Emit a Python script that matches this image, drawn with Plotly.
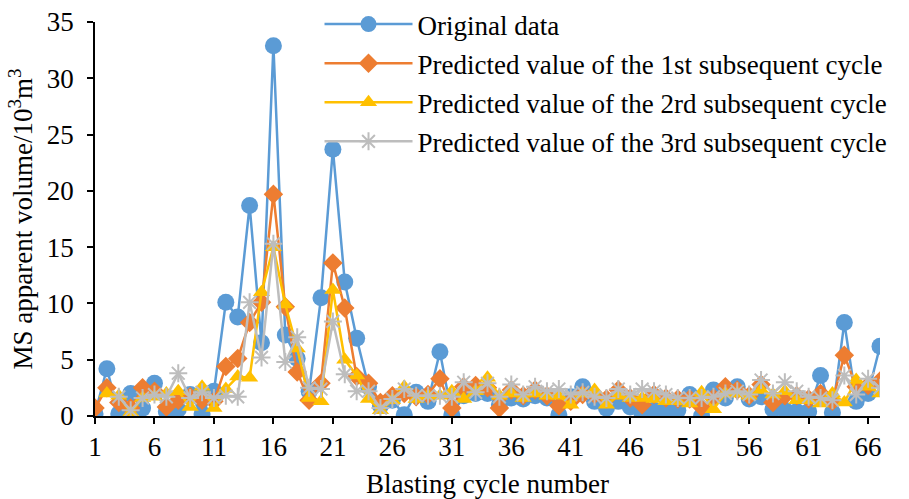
import plotly.graph_objects as go

# Blasting cycles 1..67
cycles = list(range(1, 68))

original = [0.2, 4.2, 0.2, 2.0, 0.7, 2.9, 0.4, 0.6, 1.9, 0.2,
            2.2, 10.1, 8.8, 18.7, 6.5, 32.9, 7.2, 5.1, 2.2, 10.5,
            23.7, 11.9, 6.9, 2.6, 0.9, 1.4, 0.1, 2.1, 1.3, 5.7,
            0.1, 1.8, 2.0, 2.0, 1.0, 1.6, 1.5, 1.8, 1.6, 0.1,
            1.7, 2.6, 1.3, 0.7, 1.3, 0.8, 0.2, 0.5, 0.5, 0.5,
            1.9, 0.0, 2.3, 1.6, 2.6, 1.5, 1.7, 0.6, 0.5, 0.4,
            0.4, 3.6, 0.3, 8.3, 1.3, 2.0, 6.2]

pred_1st = [0.7, 2.5, 1.2, 0.7, 2.5, 2.2, 0.8, 1.4, 1.7, 1.4,
            1.3, 4.4, 5.1, 8.3, 10.1, 19.7, 9.7, 3.9, 1.4, 2.9,
            13.6, 9.6, 3.5, 2.9, 1.2, 1.8, 2.0, 1.7, 1.9, 3.3,
            0.7, 2.6, 2.7, 2.5, 0.7, 2.3, 1.8, 2.3, 1.8, 0.9,
            1.3, 1.9, 1.9, 1.5, 2.3, 1.6, 1.0, 1.9, 1.6, 1.5,
            1.5, 0.8, 1.6, 2.6, 2.3, 1.8, 2.8, 1.2, 1.8, 1.8,
            1.5, 2.0, 1.3, 5.4, 2.6, 2.7, 3.1]

pred_2nd = [None, 2.0, 1.8, 0.3, 1.6, 1.7, 2.0, 2.2, 0.8, 2.6,
            0.7, 2.4, 3.5, 3.4, 11.0, 15.0, 9.9, 6.0, 1.6, 1.3,
            11.2, 5.0, 3.6, 1.5, 0.5, 1.4, 2.6, 1.5, 1.8, 1.8,
            2.2, 1.5, 2.2, 3.4, 1.8, 2.0, 1.6, 2.0, 1.8, 1.8,
            1.0, 2.0, 2.3, 1.0, 1.8, 1.6, 1.6, 1.5, 1.3, 1.3,
            1.1, 2.1, 0.6, 2.0, 2.0, 1.8, 2.3, 1.9, 2.2, 1.4,
            1.4, 1.1, 2.0, 1.2, 3.2, 2.6, 2.0]

pred_3rd = [None, None, 1.7, 0.5, 1.6, 1.9, 1.7, 3.8, 1.6, 2.1,
            1.6, 1.8, 1.7, 10.1, 5.2, 15.3, 4.8, 7.0, 2.5, 2.4,
            8.4, 3.7, 2.2, 2.2, 0.7, 1.5, 2.4, 1.8, 1.8, 1.8,
            1.7, 3.0, 2.1, 2.9, 1.7, 2.8, 1.9, 2.6, 2.2, 2.4,
            1.9, 2.1, 1.7, 1.6, 2.4, 1.9, 2.4, 2.2, 1.9, 1.6,
            1.6, 1.6, 1.7, 2.0, 2.2, 1.9, 3.2, 2.0, 3.0, 2.2,
            1.7, 1.6, 1.4, 3.6, 1.9, 3.3, 2.5]

x_ticks = [1, 6, 11, 16, 21, 26, 31, 36, 41, 46, 51, 56, 61, 66]

FONT = "Liberation Serif, Times New Roman, serif"
FS = 27

series = [
    ("Original data", original, "#5B9BD5", "circle", 17),
    ("Predicted value of the 1st subsequent cycle", pred_1st, "#ED7D31", "diamond", 15),
    ("Predicted value of the 2rd subsequent cycle", pred_2nd, "#FFC000", "triangle-up", 15),
    ("Predicted value of the 3rd subsequent cycle", pred_3rd, "#BDBDBD", "asterisk-open", 15),
]

fig = go.Figure()
for i, (name, vals, color, symbol, size) in enumerate(series):
    marker = dict(symbol=symbol, size=size, color=color)
    if symbol == "asterisk-open":
        marker["line"] = dict(color=color, width=2)
    else:
        marker["line"] = dict(width=0)
    fig.add_trace(go.Scatter(
        x=cycles, y=vals, name=name, mode="lines+markers",
        line=dict(color=color, width=2.5),
        marker=marker, legendgroup=f"g{i}",
    ))

fig.update_layout(
    width=909, height=499,
    margin=dict(l=95, r=29, t=22, b=83, autoexpand=False),
    paper_bgcolor="white", plot_bgcolor="white",
    font=dict(family=FONT, size=FS, color="black"),
    showlegend=True,
    legend=dict(
        x=0.286, y=1.012, xref="paper", yref="container",
        xanchor="left", yanchor="top",
        bgcolor="rgba(0,0,0,0)", font=dict(family=FONT, size=FS, color="black"),
        tracegroupgap=1, itemwidth=88,
    ),
    xaxis=dict(
        range=[1, 67], tickmode="array", tickvals=x_ticks,
        ticks="outside", ticklen=6, tickwidth=1.5, tickcolor="black",
        showline=True, linecolor="black", linewidth=1.5,
        showgrid=False, zeroline=False,
        title=dict(text="Blasting cycle number", font=dict(family=FONT, size=FS), standoff=13),
        tickfont=dict(family=FONT, size=FS),
    ),
    yaxis=dict(
        range=[0, 35], dtick=5,
        ticks="outside", ticklen=6, tickwidth=1.5, tickcolor="black",
        showline=True, linecolor="black", linewidth=1.5,
        showgrid=False, zeroline=False, ticklabelstandoff=8,
        title=dict(text="MS apparent volume/10<sup>3</sup>m<sup>3</sup>", font=dict(family=FONT, size=FS), standoff=6),
        tickfont=dict(family=FONT, size=FS),
    ),
)

fig.write_html("out.html")
